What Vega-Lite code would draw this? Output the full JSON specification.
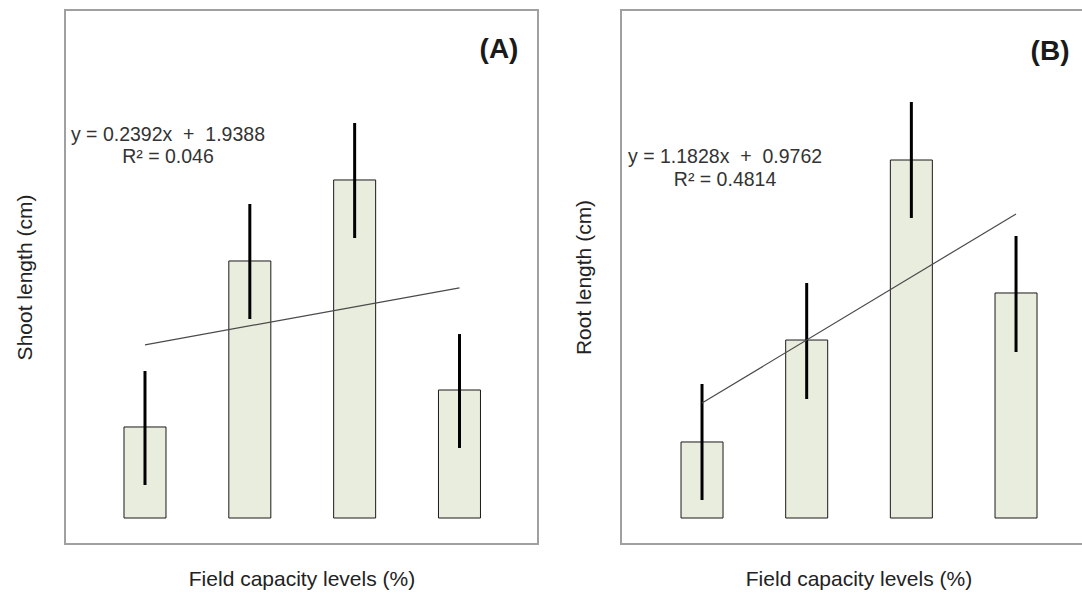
{
  "$schema": "https://vega.github.io/schema/vega-lite/v6.json",
  "background": "white",
  "padding": {"left": 13, "top": 9, "right": 0, "bottom": 0},
  "spacing": 33,
  "config": {
    "view": {"stroke": "#a0a0a0", "strokeWidth": 2},
    "font": "Liberation Sans",
    "axis": {"domain": false, "ticks": false, "labels": false, "grid": false, "titleFont": "Liberation Sans", "titleFontWeight": "normal", "titleFontSize": 21, "titleColor": "#222222"}
  },
  "datasets": {
    "barsA": [
      {"level": 1, "mean": 1.145, "lo": 0.415, "hi": 1.849},
      {"level": 2, "mean": 3.233, "lo": 2.503, "hi": 3.950},
      {"level": 3, "mean": 4.252, "lo": 3.522, "hi": 4.969},
      {"level": 4, "mean": 1.610, "lo": 0.881, "hi": 2.314}
    ],
    "trendA": [
      {"level": 1, "fit": 2.1780},
      {"level": 4, "fit": 2.8956}
    ],
    "tagA": [
      {"px": 4.377, "py": 5.887, "label": "(A)"}
    ],
    "eqA": [
      {"px": 1.219, "py": 4.818, "label": "y = 0.2392x\u00a0 +\u00a0 1.9388"},
      {"px": 1.219, "py": 4.541, "label": "R² = 0.046"}
    ],
    "barsB": [
      {"level": 1, "mean": 1.427, "lo": 0.338, "hi": 2.516},
      {"level": 2, "mean": 3.341, "lo": 2.234, "hi": 4.411},
      {"level": 3, "mean": 6.720, "lo": 5.632, "hi": 7.809},
      {"level": 4, "mean": 4.224, "lo": 3.116, "hi": 5.294}
    ],
    "trendB": [
      {"level": 1, "fit": 2.1590},
      {"level": 4, "fit": 5.7074}
    ],
    "tagB": [
      {"px": 4.325, "py": 8.748, "label": "(B)"}
    ],
    "eqB": [
      {"px": 1.220, "py": 6.777, "label": "y = 1.1828x\u00a0 +\u00a0 0.9762"},
      {"px": 1.220, "py": 6.345, "label": "R² = 0.4814"}
    ]
  },
  "hconcat": [
    {
      "width": 473,
      "height": 534,
      "layer": [
        {
          "data": {"name": "barsA"},
          "mark": {"type": "bar", "width": 42, "fill": "#e9eddd", "stroke": "#1a1a1a", "strokeWidth": 1},
          "encoding": {
            "x": {"field": "level", "type": "quantitative", "scale": {"domain": [0.237, 4.749], "nice": false, "zero": false, "padding": 0}, "axis": {"title": "Field capacity levels (%)", "titlePadding": 24}},
            "y": {"field": "mean", "type": "quantitative", "scale": {"domain": [-0.327, 6.39], "nice": false, "zero": false, "padding": 0}, "axis": {"title": "Shoot length (cm)", "titlePadding": 30}}
          }
        },
        {
          "data": {"name": "barsA"},
          "mark": {"type": "rule", "color": "#000000", "strokeWidth": 3},
          "encoding": {
            "x": {"field": "level", "type": "quantitative"},
            "y": {"field": "lo", "type": "quantitative"},
            "y2": {"field": "hi"}
          }
        },
        {
          "data": {"name": "trendA"},
          "mark": {"type": "line", "color": "#4a4a4a", "strokeWidth": 1.2},
          "encoding": {
            "x": {"field": "level", "type": "quantitative"},
            "y": {"field": "fit", "type": "quantitative"}
          }
        },
        {
          "data": {"name": "tagA"},
          "mark": {"type": "text", "align": "center", "baseline": "middle", "color": "#1a1a1a", "fontSize": 28, "fontWeight": "bold"},
          "encoding": {
            "x": {"field": "px", "type": "quantitative"},
            "y": {"field": "py", "type": "quantitative"},
            "text": {"field": "label"}
          }
        },
        {
          "data": {"name": "eqA"},
          "mark": {"type": "text", "align": "center", "baseline": "middle", "color": "#333333", "fontSize": 19.5},
          "encoding": {
            "x": {"field": "px", "type": "quantitative"},
            "y": {"field": "py", "type": "quantitative"},
            "text": {"field": "label"}
          }
        }
      ]
    },
    {
      "width": 475,
      "height": 534,
      "layer": [
        {
          "data": {"name": "barsB"},
          "mark": {"type": "bar", "width": 42, "fill": "#e9eddd", "stroke": "#1a1a1a", "strokeWidth": 1},
          "encoding": {
            "x": {"field": "level", "type": "quantitative", "scale": {"domain": [0.226, 4.764], "nice": false, "zero": false, "padding": 0}, "axis": {"title": "Field capacity levels (%)", "titlePadding": 24}},
            "y": {"field": "mean", "type": "quantitative", "scale": {"domain": [-0.488, 9.536], "nice": false, "zero": false, "padding": 0}, "axis": {"title": "Root length (cm)", "titlePadding": 27}}
          }
        },
        {
          "data": {"name": "barsB"},
          "mark": {"type": "rule", "color": "#000000", "strokeWidth": 3},
          "encoding": {
            "x": {"field": "level", "type": "quantitative"},
            "y": {"field": "lo", "type": "quantitative"},
            "y2": {"field": "hi"}
          }
        },
        {
          "data": {"name": "trendB"},
          "mark": {"type": "line", "color": "#4a4a4a", "strokeWidth": 1.2},
          "encoding": {
            "x": {"field": "level", "type": "quantitative"},
            "y": {"field": "fit", "type": "quantitative"}
          }
        },
        {
          "data": {"name": "tagB"},
          "mark": {"type": "text", "align": "center", "baseline": "middle", "color": "#1a1a1a", "fontSize": 28, "fontWeight": "bold"},
          "encoding": {
            "x": {"field": "px", "type": "quantitative"},
            "y": {"field": "py", "type": "quantitative"},
            "text": {"field": "label"}
          }
        },
        {
          "data": {"name": "eqB"},
          "mark": {"type": "text", "align": "center", "baseline": "middle", "color": "#333333", "fontSize": 19.5},
          "encoding": {
            "x": {"field": "px", "type": "quantitative"},
            "y": {"field": "py", "type": "quantitative"},
            "text": {"field": "label"}
          }
        }
      ]
    }
  ]
}
